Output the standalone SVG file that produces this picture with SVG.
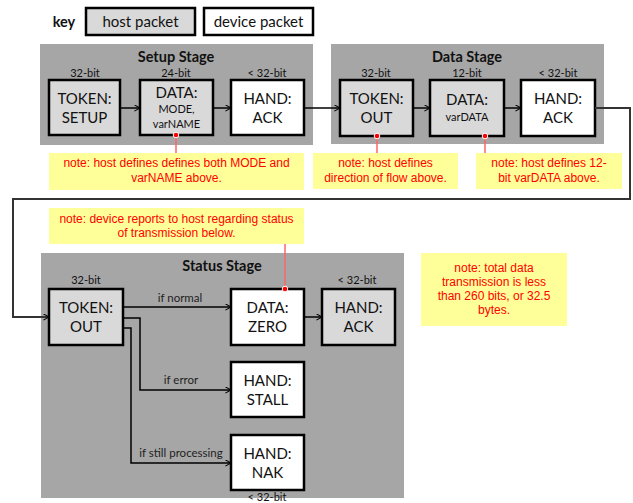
<svg xmlns="http://www.w3.org/2000/svg" width="633" height="503" viewBox="0 0 633 503">
<defs>
<style>
.panel{fill:#a6a6a6}
.host{fill:#d9d9d9;stroke:#000;stroke-width:2.5}
.dev{fill:#fff;stroke:#000;stroke-width:2.5}
.bt{font-family:Lato,"Liberation Sans",sans-serif;font-size:15px;fill:#111;text-anchor:middle}
.sm{font-family:Lato,"Liberation Sans",sans-serif;font-size:11px;fill:#111;text-anchor:middle}
.ttl{font-family:Lato,"Liberation Sans",sans-serif;font-size:14.5px;font-weight:bold;fill:#111;text-anchor:middle}
.lbl{font-family:Lato,"Liberation Sans",sans-serif;font-size:11.5px;fill:#222;text-anchor:middle}
.note{fill:#ffff99}
.nt{font-family:"Liberation Sans",Arial,sans-serif;font-size:12px;fill:#ff0000;text-anchor:middle}
.con{fill:none;stroke:#000;stroke-width:1.5}
.loop{fill:none;stroke:#333;stroke-width:2}
.rl{stroke:#ff6666;stroke-width:1.5}
.dot{fill:#ff0000;stroke:#fff;stroke-width:1}
</style>
<marker id="arr" viewBox="0 0 10 10" refX="9" refY="5" markerWidth="7" markerHeight="7" markerUnits="userSpaceOnUse" orient="auto">
<path d="M1,0.5 L9,5 L1,9.5" fill="none" stroke="#000" stroke-width="1.5"/>
</marker>
</defs>
<rect width="633" height="503" fill="#fff"/>

<g id="key">
<text x="64" y="27" class="ttl">key</text>
<rect x="86" y="8" width="109" height="27" class="host"/>
<text x="140.5" y="27" class="bt">host packet</text>
<rect x="204" y="8" width="109" height="27" class="dev"/>
<text x="258.5" y="27" class="bt">device packet</text>
</g>

<g id="setup-stage">
<rect x="40" y="44" width="273" height="101" class="panel"/>
<text x="176" y="62" class="ttl">Setup Stage</text>
<text x="85" y="77" class="sm">32-bit</text>
<text x="176" y="77" class="sm">24-bit</text>
<text x="267" y="77" class="sm">&lt; 32-bit</text>
</g>
<g id="setup-token">
<rect x="49" y="80" width="71" height="55" class="host"/>
<text x="84.5" y="104" class="bt">TOKEN:</text>
<text x="84.5" y="123" class="bt">SETUP</text>
</g>
<g id="setup-data">
<rect x="140" y="80" width="73" height="55" class="host"/>
<text x="176.5" y="98" class="bt">DATA:</text>
<text x="176.5" y="113" class="sm">MODE,</text>
<text x="176.5" y="128" class="sm">varNAME</text>
</g>
<g id="setup-ack">
<rect x="231" y="80" width="73" height="55" class="dev"/>
<text x="267.5" y="104" class="bt">HAND:</text>
<text x="267.5" y="123" class="bt">ACK</text>
</g>

<g id="data-stage">
<rect x="331" y="44" width="273" height="100" class="panel"/>
<text x="467" y="62" class="ttl">Data Stage</text>
<text x="376" y="77" class="sm">32-bit</text>
<text x="467" y="77" class="sm">12-bit</text>
<text x="558" y="77" class="sm">&lt; 32-bit</text>
</g>
<g id="data-token">
<rect x="340" y="80" width="73" height="56" class="host"/>
<text x="376.5" y="104" class="bt">TOKEN:</text>
<text x="376.5" y="123" class="bt">OUT</text>
</g>
<g id="data-data">
<rect x="430" y="80" width="74" height="56" class="host"/>
<text x="467" y="105" class="bt">DATA:</text>
<text x="467" y="121" class="sm">varDATA</text>
</g>
<g id="data-ack">
<rect x="521" y="80" width="74" height="56" class="dev"/>
<text x="558" y="104" class="bt">HAND:</text>
<text x="558" y="123" class="bt">ACK</text>
</g>

<g id="status-stage">
<rect x="41" y="253" width="363" height="245" class="panel"/>
<text x="222" y="271" class="ttl">Status Stage</text>
<text x="86" y="284" class="sm">32-bit</text>
<text x="357" y="284" class="sm">&lt; 32-bit</text>
<text x="267" y="501" class="sm">&lt; 32-bit</text>
</g>
<g id="status-token">
<rect x="49" y="289" width="74" height="56" class="host"/>
<text x="86" y="313" class="bt">TOKEN:</text>
<text x="86" y="332" class="bt">OUT</text>
</g>
<g id="status-zero">
<rect x="231" y="289" width="73" height="56" class="dev"/>
<text x="267.5" y="313" class="bt">DATA:</text>
<text x="267.5" y="332" class="bt">ZERO</text>
</g>
<g id="status-ack">
<rect x="322" y="289" width="73" height="56" class="host"/>
<text x="358.5" y="313" class="bt">HAND:</text>
<text x="358.5" y="332" class="bt">ACK</text>
</g>
<g id="status-stall">
<rect x="231" y="362" width="73" height="55" class="dev"/>
<text x="267.5" y="386" class="bt">HAND:</text>
<text x="267.5" y="405" class="bt">STALL</text>
</g>
<g id="status-nak">
<rect x="231" y="435" width="73" height="55" class="dev"/>
<text x="267.5" y="459" class="bt">HAND:</text>
<text x="267.5" y="478" class="bt">NAK</text>
</g>

<g id="notes">
<g id="note-setup">
<rect x="49" y="153" width="255" height="37" class="note"/>
<text x="176.5" y="167" class="nt">note: host defines defines both MODE and</text>
<text x="176.5" y="182" class="nt">varNAME above.</text>
</g>
<g id="note-direction">
<rect x="313" y="153" width="145" height="36" class="note"/>
<text x="385.5" y="167" class="nt">note: host defines</text>
<text x="385.5" y="182" class="nt">direction of flow above.</text>
</g>
<g id="note-vardata">
<rect x="476" y="153" width="146" height="36" class="note"/>
<text x="549" y="167" class="nt">note: host defines 12-</text>
<text x="549" y="182" class="nt">bit varDATA above.</text>
</g>
<g id="note-status">
<rect x="49" y="208" width="255" height="36" class="note"/>
<text x="176.5" y="223" class="nt">note: device reports to host regarding status</text>
<text x="176.5" y="237" class="nt">of transmission below.</text>
</g>
<g id="note-total">
<rect x="421" y="253" width="146" height="73" class="note"/>
<text x="494" y="272" class="nt">note: total data</text>
<text x="494" y="286" class="nt">transmission is less</text>
<text x="494" y="300" class="nt">than 260 bits, or 32.5</text>
<text x="494" y="314" class="nt">bytes.</text>
</g>
</g>

<g id="connectors">
<path d="M120,108 H140" class="con" marker-end="url(#arr)"/>
<path d="M213,108 H231" class="con" marker-end="url(#arr)"/>
<path d="M304,108 H340" class="con" marker-end="url(#arr)"/>
<path d="M413,108 H430" class="con" marker-end="url(#arr)"/>
<path d="M504,108 H521" class="con" marker-end="url(#arr)"/>
<path d="M595,108 H630 V199 H13 V317 H49" class="loop" marker-end="url(#arr)"/>
<path d="M123,307 H231" class="con" marker-end="url(#arr)"/>
<text x="180" y="302" class="lbl">if normal</text>
<path d="M304,317 H322" class="con" marker-end="url(#arr)"/>
<path d="M123,318 H140 V390 H231" class="con" marker-end="url(#arr)"/>
<text x="181" y="384" class="lbl">if error</text>
<path d="M123,328 H131 V463 H231" class="con" marker-end="url(#arr)"/>
<text x="181" y="457" class="lbl">if still processing</text>
<line x1="176" y1="135" x2="176" y2="153" class="rl"/>
<circle cx="176" cy="135" r="2.8" class="dot"/>
<line x1="377" y1="136" x2="377" y2="153" class="rl"/>
<circle cx="377" cy="136" r="2.8" class="dot"/>
<line x1="485" y1="136" x2="485" y2="153" class="rl"/>
<circle cx="485" cy="136" r="2.8" class="dot"/>
<line x1="285" y1="244" x2="285" y2="289" class="rl"/>
<circle cx="285" cy="289" r="2.8" class="dot"/>
</g>
</svg>
